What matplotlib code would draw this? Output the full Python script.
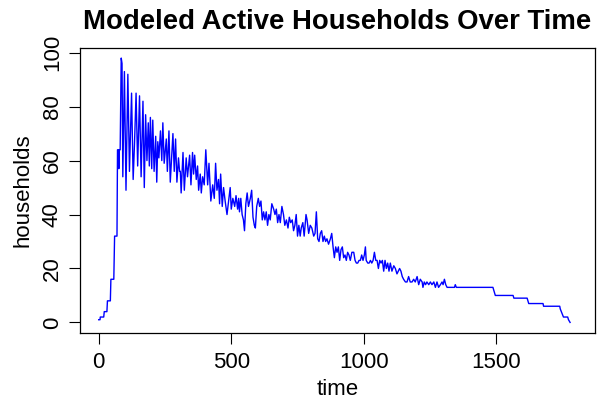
import matplotlib
matplotlib.use("Agg")
import matplotlib.pyplot as plt

# ---- data ----
time = [0, 5, 6, 19, 21, 31, 33, 44, 46, 57, 60, 69, 71, 74, 76, 78, 81,
        85, 88, 91, 97, 103, 110, 116, 124, 130, 135, 141, 147, 154, 160, 167, 172,
        177, 182, 187, 191, 195, 200, 204, 209, 215, 219, 223, 227, 233, 238, 242,
        247, 255, 259, 265, 270, 280, 285, 290, 295, 301, 305,
        308, 311, 318, 323, 330, 335, 343, 348, 354, 358, 362, 368, 373, 377, 383,
        387, 392, 398, 404, 411, 416, 423, 430, 436, 441, 446, 452, 456, 460, 466,
        471, 477, 484, 490, 496, 500, 506, 513, 518, 524, 528, 531, 536, 541, 546,
        550, 555, 560, 565, 572, 577, 582, 587, 591, 596, 602, 607, 612, 617, 622,
        627, 632, 637, 642, 647, 653, 660, 665, 670, 675, 680, 685, 691, 697, 702,
        708, 714, 719, 724, 730, 735, 740, 745, 750, 755, 760,
        764, 770, 775, 782, 786, 792, 798, 804, 811, 816, 821, 826, 831, 836, 841,
        846, 851, 856, 861, 867, 874, 879, 884, 889, 894, 899, 904, 909, 914, 919,
        924, 929, 934, 939, 944, 949, 955, 962, 967, 972, 977, 982, 987, 992, 997,
        1002, 1006, 1009, 1015, 1020, 1025, 1030, 1035, 1040, 1045, 1050, 1055,
        1060, 1065, 1070, 1075, 1080, 1085, 1090, 1095, 1100, 1106, 1113, 1119,
        1125, 1130, 1135, 1140, 1145, 1150, 1157, 1163, 1169, 1175, 1182, 1188,
        1194, 1201, 1207, 1213, 1220, 1223, 1228, 1233, 1238, 1245, 1251, 1257,
        1264, 1270, 1276, 1282, 1289, 1295, 1299, 1304, 1309, 1314, 1342, 1345,
        1349, 1487, 1490, 1496, 1563, 1566, 1616, 1619, 1622, 1676, 1678, 1739,
        1741, 1745, 1749, 1753, 1769, 1772, 1778]
households = [1, 1, 2, 2, 4, 4, 8, 8, 16, 16, 32, 32, 64, 64, 57, 64, 64,
              98, 96, 54, 93, 49, 92, 56, 85, 53, 66, 85, 58, 84, 54, 82, 50,
              77, 60, 74, 58, 76, 57, 75, 56, 69, 52, 67, 61, 71, 60, 74,
              59, 68, 56, 71, 52, 70, 56, 68, 52, 61, 56,
              56, 48, 63, 49, 61, 54, 62, 51, 63, 55, 62, 53, 58, 49, 55,
              48, 54, 51, 64, 51, 59, 45, 51, 46, 59, 49, 53, 44, 55, 43,
              50, 45, 40, 45, 50, 42, 46, 43, 47, 42, 46, 41, 46, 40, 38,
              34, 44, 48, 43, 46, 49, 39, 36, 35, 43, 46, 43, 45, 38, 41,
              38, 41, 36, 40, 38, 44, 42, 40, 42, 37, 40, 37, 43, 40, 36,
              38, 35, 39, 37, 38, 34, 36, 40, 32, 36, 32,
              35, 37, 32, 40, 38, 33, 36, 35, 32, 33, 41, 31, 30, 33, 34,
              30, 32, 30, 31, 29, 31, 33, 28, 24, 28, 26, 28, 23, 27, 28,
              24, 25, 23, 26, 25, 23, 26, 26, 23, 22, 22, 23, 23, 25, 23,
              25, 28, 23, 22, 22, 23, 22, 23, 26, 23, 23, 20,
              23, 22, 23, 19, 23, 20, 22, 19, 22, 19, 21, 20,
              18, 19, 20, 19, 17, 16, 15, 15, 17, 15, 15, 16,
              15, 17, 14, 16, 15, 13, 15, 14, 15, 14, 15, 14,
              15, 13, 15, 13, 14, 15, 14, 16, 14, 13, 13, 14,
              13, 13, 12, 10, 10, 9, 9, 8, 7, 7, 6, 6,
              5, 4, 3, 2, 2, 1, 0]

x_ticks = [0, 500, 1000, 1500]
y_ticks = [0, 20, 40, 60, 80, 100]

W, H = 597, 403
plt.rcParams['font.family'] = ['Liberation Sans', 'DejaVu Sans']
fig = plt.figure(figsize=(W / 100, H / 100), dpi=100)
L, R, T, B = 79.6, 595.0, 47.5, 333.0
ax = fig.add_axes([L / W, 1 - B / H, (R - L) / W, (B - T) / H])

ax.plot(time, households, color='#0000FF', lw=1.0)
ax.set_xlim(-72, 1872)
ax.set_ylim(-3.92, 101.92)
ax.set_xticks(x_ticks)
ax.set_yticks(y_ticks)
ax.tick_params(labelsize=16, length=8, width=0.8, color='black')
ax.tick_params(axis='x', pad=6)
ax.tick_params(axis='y', pad=4)
for lab in ax.get_yticklabels():
    lab.set_rotation(90)
    lab.set_va('center')
for s in ax.spines.values():
    s.set_linewidth(0.9)

ax.set_xlabel('time', fontsize=16, labelpad=4)
ax.set_ylabel('households', fontsize=16, labelpad=6)
fig.text(((L + R) / 2) / W, 1 - 29 / H, 'Modeled Active Households Over Time',
         ha='center', va='baseline', fontsize=19.8, fontweight='bold')

fig.savefig('out.png', dpi=100)
